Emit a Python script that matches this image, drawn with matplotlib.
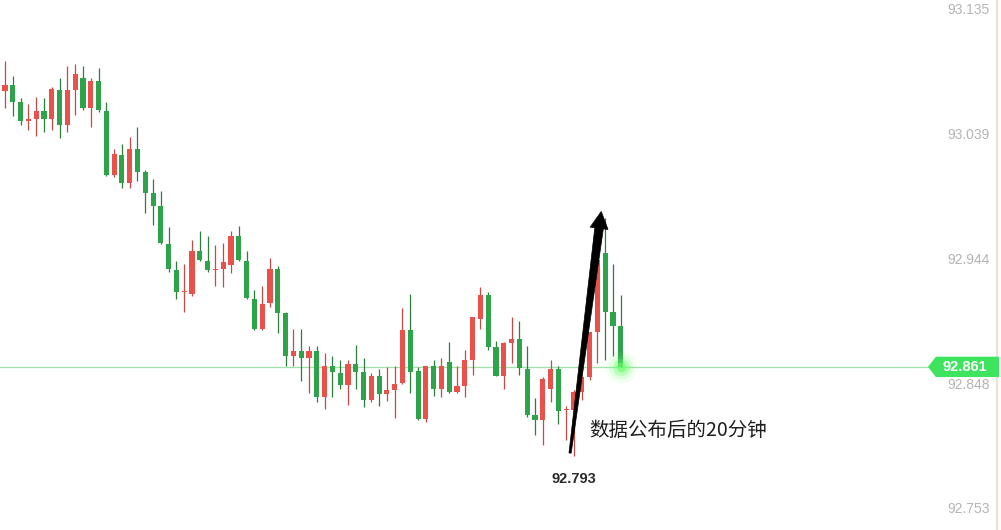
"""Candlestick chart: 80 one-minute candles, price tag on the right and an annotated spike."""
import numpy as np
import matplotlib
matplotlib.use("Agg")
import matplotlib.pyplot as plt
from matplotlib.patches import Polygon
from matplotlib.transforms import IdentityTransform

plt.rcParams["font.family"] = ["Noto Sans CJK SC", "DejaVu Sans"]

# ---- data ----
opens = [93.072, 93.077, 93.064, 93.049, 93.051, 93.057, 93.051, 93.073, 93.046, 93.073,
         93.082, 93.059, 93.080, 93.057, 93.008, 93.023, 93.002, 93.028, 93.010, 92.994,
         92.984, 92.955, 92.935, 92.918, 92.917, 92.950, 92.942, 92.935, 92.936, 92.939,
         92.961, 92.942, 92.913, 92.890, 92.910, 92.936, 92.902, 92.869, 92.873, 92.868,
         92.873, 92.838, 92.862, 92.856, 92.847, 92.863, 92.857, 92.836, 92.854, 92.840,
         92.843, 92.849, 92.889, 92.858, 92.821, 92.862, 92.844, 92.865, 92.842, 92.846,
         92.866, 92.898, 92.916, 92.876, 92.854, 92.879, 92.882, 92.859, 92.824, 92.820,
         92.844, 92.859, 92.828, 92.828, 92.842, 92.853, 92.888, 92.948, 92.903, 92.892]
highs = [93.095, 93.084, 93.067, 93.062, 93.068, 93.067, 93.075, 93.082, 93.091, 93.093,
         93.091, 93.082, 93.090, 93.064, 93.028, 93.032, 93.037, 93.045, 93.012, 93.005,
         92.996, 92.968, 92.942, 92.940, 92.958, 92.965, 92.961, 92.954, 92.956, 92.965,
         92.969, 92.950, 92.920, 92.923, 92.944, 92.938, 92.903, 92.890, 92.890, 92.877,
         92.877, 92.872, 92.869, 92.866, 92.866, 92.878, 92.868, 92.856, 92.859, 92.861,
         92.862, 92.906, 92.917, 92.861, 92.862, 92.866, 92.868, 92.880, 92.862, 92.874,
         92.899, 92.922, 92.918, 92.881, 92.880, 92.899, 92.896, 92.877, 92.837, 92.853,
         92.866, 92.862, 92.831, 92.843, 92.854, 92.888, 92.947, 92.975, 92.940, 92.916]
lows = [93.059, 93.053, 93.046, 93.042, 93.038, 93.041, 93.042, 93.036, 93.041, 93.054,
        93.058, 93.045, 93.056, 93.007, 93.006, 92.998, 92.998, 93.003, 92.979, 92.970,
        92.955, 92.934, 92.913, 92.903, 92.915, 92.942, 92.934, 92.923, 92.922, 92.933,
        92.942, 92.913, 92.889, 92.889, 92.907, 92.887, 92.862, 92.862, 92.850, 92.841,
        92.834, 92.829, 92.838, 92.844, 92.832, 92.844, 92.830, 92.834, 92.831, 92.835,
        92.822, 92.848, 92.841, 92.820, 92.819, 92.839, 92.838, 92.841, 92.841, 92.838,
        92.855, 92.890, 92.874, 92.854, 92.844, 92.864, 92.855, 92.823, 92.809, 92.801,
        92.834, 92.817, 92.805, 92.793, 92.836, 92.851, 92.864, 92.866, 92.869, 92.861]
closes = [93.077, 93.064, 93.049, 93.051, 93.057, 93.051, 93.074, 93.046, 93.073, 93.085,
          93.059, 93.080, 93.058, 93.008, 93.024, 93.002, 93.028, 93.010, 92.994, 92.984,
          92.956, 92.936, 92.918, 92.918, 92.950, 92.943, 92.935, 92.935, 92.941, 92.961,
          92.943, 92.914, 92.890, 92.909, 92.936, 92.902, 92.869, 92.873, 92.868, 92.873,
          92.838, 92.862, 92.857, 92.847, 92.863, 92.857, 92.836, 92.854, 92.840, 92.843,
          92.848, 92.889, 92.857, 92.821, 92.862, 92.844, 92.862, 92.842, 92.846, 92.866,
          92.899, 92.916, 92.876, 92.854, 92.879, 92.882, 92.860, 92.824, 92.820, 92.852,
          92.859, 92.827, 92.828, 92.842, 92.853, 92.888, 92.943, 92.903, 92.892, 92.861]

price_ticks = [93.135, 93.039, 92.944, 92.848, 92.753]
last_price = 92.861
low_label = "92.793"
low_index = 73
note_text = "数据公布后的20分钟"
arrow_tip = (76.5, 92.980)

RED = "#e8524b"
GREEN = "#2ea44a"
RED_WICK = "#c24a47"
GREEN_WICK = "#2b7f3d"


def main():
    fig = plt.figure(figsize=(10.01, 5.30), dpi=100)
    ax = fig.add_axes([0, 0, 1, 1])
    ax.set_xlim(-0.6415, 127.79)
    ax.set_ylim(92.7361, 93.1419)
    ax.set_axis_off()

    o = np.array(opens); h = np.array(highs); l = np.array(lows); c = np.array(closes)
    x = np.arange(len(o))
    up = c >= o
    body_col = np.where(up, RED, GREEN)
    wick_col = np.where(up, RED_WICK, GREEN_WICK)

    ax.axhline(last_price, xmin=0, xmax=0.93, color="#9fe3a4", lw=0.9, zorder=1)

    ax.vlines(x, l, h, colors=wick_col, lw=0.9, zorder=2)
    bottoms = np.minimum(o, c)
    heights = np.maximum(np.abs(c - o), 0.0009)
    ax.bar(x, heights, bottom=bottoms, width=0.66, color=body_col, lw=0, zorder=3)

    # glow on the last candle
    for s, a in [(520, 0.08), (300, 0.15), (150, 0.3), (50, 0.6)]:
        ax.scatter([x[-1]], [last_price], s=s, color="#66ff66", alpha=a, lw=0, zorder=4)

    # right price scale
    ax.axvline(127.25, color="#f1d9c9", lw=1.2)
    ytr = ax.get_yaxis_transform()
    for t in price_ticks:
        ax.text(0.989, t - 0.0008, f"{t:.3f}", transform=ytr, ha="right", va="center",
                fontsize=10, color="#b4b4b4", family=["Liberation Sans"])

    # last price tag
    hh = 0.0078
    tag = Polygon([(0.927, last_price), (0.935, last_price + hh), (0.998, last_price + hh),
                   (0.998, last_price - hh), (0.935, last_price - hh)],
                  closed=True, transform=ytr, facecolor="#3ee45e", edgecolor="none", zorder=5)
    ax.add_patch(tag)
    ax.text(0.964, last_price, f"{last_price:.3f}", transform=ytr, ha="center", va="center",
            fontsize=10.5, color="white", fontweight="bold", family=["Liberation Sans"], zorder=6)

    # tapered black arrow from the low to the spike
    fig.canvas.draw()
    p0 = ax.transData.transform((low_index - 0.5, lows[low_index] + 0.002))
    p1 = ax.transData.transform(arrow_tip)
    u = (p1 - p0) / np.linalg.norm(p1 - p0)
    n = np.array([-u[1], u[0]])
    head_len, head_w, tail_w, neck_w = 17, 9, 1.1, 4.3
    neck = p1 - u * head_len
    pts = [p0 + n * tail_w, neck + n * neck_w, neck + n * head_w, p1,
           neck - n * head_w, neck - n * neck_w, p0 - n * tail_w]
    ax.add_patch(Polygon(pts, closed=True, transform=IdentityTransform(),
                         facecolor="black", edgecolor="black", lw=0.5, zorder=7))

    ax.text(low_index + 2.0, 92.8125, note_text, fontsize=14, color="#1e1e1e",
            ha="left", va="center", zorder=8)
    ax.text(low_index, 92.7748, low_label, fontsize=10.5, color="#2a2a2a",
            ha="center", va="center", fontweight="bold", family=["Liberation Sans"])

    fig.savefig("out.png", dpi=100, facecolor="white")
    plt.close(fig)


if __name__ == "__main__":
    main()
